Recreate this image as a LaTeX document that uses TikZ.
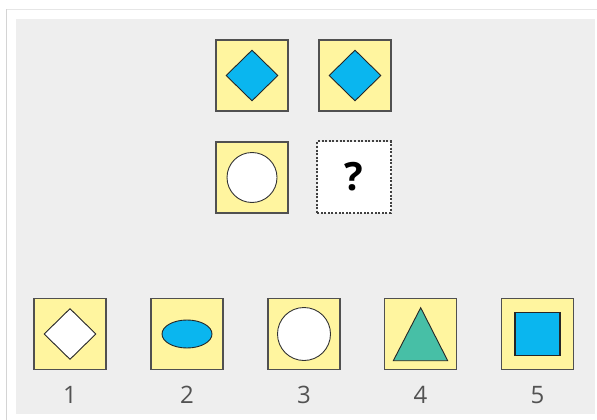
\documentclass[tikz,border=0pt]{standalone}
\usepackage{fontspec}
\setmainfont{Open Sans}
\usetikzlibrary{shapes.geometric}
\definecolor{panelgray}{HTML}{EEEEEE}
\definecolor{cellyellow}{HTML}{FFF59F}
\definecolor{cellborder}{HTML}{505050}
\definecolor{shapeblue}{HTML}{0AB6EF}
\definecolor{shapeteal}{HTML}{47BFA6}
\definecolor{labelgray}{HTML}{525252}
\definecolor{frameline}{HTML}{D4D4D4}
\definecolor{framelight}{HTML}{E6E6E6}
\tikzset{
  cell/.style={draw=cellborder, fill=cellyellow, line width=1.3pt, minimum width=72pt, minimum height=71pt, inner sep=0pt},
  qcell/.style={fill=white, minimum width=73pt, minimum height=71pt, inner sep=0pt, font=\fontsize{39}{39}\selectfont\bfseries},
  qborder/.style={draw=black!75, line width=2.2pt, dash pattern=on 2pt off 1.6pt},
  dia/.style={shape=diamond, aspect=1, draw=black!85, line width=0.9pt, minimum width=52pt, minimum height=51pt, inner sep=0pt},
  circ/.style={shape=circle, draw=black!80, line width=0.9pt, fill=white, inner sep=0pt},
  ell/.style={shape=ellipse, draw=black!85, line width=0.9pt, fill=shapeblue, minimum width=50pt, minimum height=28pt, inner sep=0pt},
  sq/.style={shape=rectangle, draw=black!85, line width=1.1pt, fill=shapeblue, minimum width=45pt, minimum height=43pt, inner sep=0pt},
  numlabel/.style={text=labelgray, font=\fontsize{24}{24}\selectfont, inner sep=0pt}
}
\begin{document}
\begin{tikzpicture}[x=1pt,y=-1pt]
\useasboundingbox (0,0) rectangle (597,420);
\fill[white] (0,0) rectangle (597,420);
\draw[framelight, line width=1pt] (6.5,9.5) -- (597,9.5);
\draw[frameline, line width=1.5pt] (6.5,420) -- (6.5,9.5);
\fill[panelgray] (16,19) rectangle (595,414);

% top grid
\node[cell] (t1) at (252,75.5) {};
\node[cell] (t2) at (355,75.5) {};
\node[cell] (t3) at (252,177.5) {};
\node[qcell] (t4) at (354,177) {?};
\draw[qborder] (t4.south west) rectangle (t4.north east);
\node[dia, fill=shapeblue] (d1) at (t1.center) {};
\node[dia, fill=shapeblue] (d2) at (t2.center) {};
\node[circ, minimum size=50pt] (c1) at (t3.center) {};

% answer options
\node[cell] (b1) at (70,334) {};
\node[cell] (b2) at (187,334) {};
\node[cell] (b3) at (304,334) {};
\node[cell] (b4) at (420.5,334) {};
\node[cell] (b5) at (537.5,334) {};

\node[dia, fill=white] (o1) at (b1.center) {};
\node[ell] (o2) at (b2.center) {};
\node[circ, minimum size=53pt] (o3) at (b3.center) {};
\coordinate (tA) at (420.7,307.7);
\coordinate (tB) at (393.3,360.7);
\coordinate (tC) at (447.7,360.7);
\draw[draw=black!85, line width=0.9pt, fill=shapeteal, line join=miter] (tA) -- (tB) -- (tC) -- cycle;
\node[sq] (o5) at (b5.center) {};

\node[numlabel] (l1) at (70,395) {1};
\node[numlabel] (l2) at (187,395) {2};
\node[numlabel] (l3) at (304,395) {3};
\node[numlabel] (l4) at (420.5,395) {4};
\node[numlabel] (l5) at (537.5,395) {5};
\end{tikzpicture}
\end{document}
